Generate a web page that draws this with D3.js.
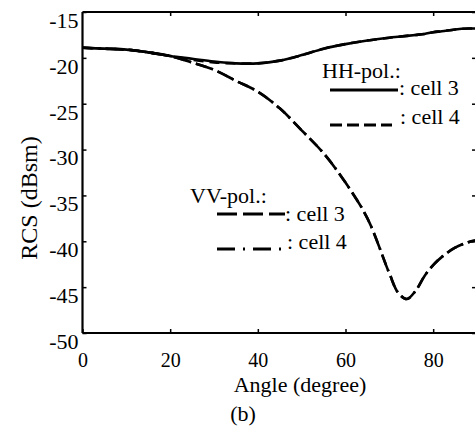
<!DOCTYPE html>
<html>
<head>
<meta charset="utf-8">
<script src="https://cdn.jsdelivr.net/npm/d3@7"></script>
<style>
  body { margin: 0; background: #fff; }
  svg { display: block; }
  svg text { font-family: "Liberation Serif", "DejaVu Serif", serif !important; fill: #000; }
</style>
</head>
<body>
<svg id="chart" width="475" height="435"></svg>
<script>
// angles (degree)
const angles = [0, 5, 10, 15, 20, 25, 30, 35, 40, 45, 50, 55, 60, 65, 70, 72, 74, 76, 78, 80, 82, 85, 88, 90];

// HH-pol.
const hhCell3 = [-18.9, -19.0, -19.1, -19.4, -19.8, -20.1, -20.4, -20.6, -20.6, -20.3, -19.7, -19.0, -18.5, -18.1, -17.8, -17.7, -17.6, -17.5, -17.4, -17.2, -17.1, -16.9, -16.8, -16.8];
const hhCell4 = [-18.9, -19.0, -19.1, -19.4, -19.8, -20.2, -20.5, -20.6, -20.6, -20.3, -19.7, -19.0, -18.5, -18.1, -17.8, -17.7, -17.6, -17.5, -17.4, -17.2, -17.1, -16.9, -16.8, -16.8];

// VV-pol.
const vvCell3 = [-18.9, -19.0, -19.1, -19.4, -19.8, -20.5, -21.3, -22.5, -23.7, -25.5, -27.9, -30.4, -33.6, -37.5, -43.5, -45.6, -46.3, -45.4, -43.8, -42.6, -41.7, -40.7, -40.1, -39.9];
const vvCell4 = [-18.9, -19.0, -19.1, -19.4, -19.8, -20.5, -21.3, -22.5, -23.7, -25.5, -27.9, -30.4, -33.6, -37.5, -43.5, -45.6, -46.3, -45.4, -43.8, -42.6, -41.7, -40.7, -40.1, -39.9];

const xTicks = [0, 20, 40, 60, 80];
const yTicks = [-15, -20, -25, -30, -35, -40, -45, -50];

const SERIF = '"Liberation Serif", "DejaVu Serif", serif';
const svg = d3.select("#chart");

const x = d3.scaleLinear().domain([0, 90]).range([82.5, 477]);
const y = d3.scaleLinear().domain([-50, -15]).range([333, 12]);

const line = d3.line()
    .x(d => x(d[0]))
    .y(d => y(d[1]))
    .curve(d3.curveCatmullRom);

const series = [
    { values: hhCell3, dash: null },
    { values: hhCell4, dash: "10,6" },
    { values: vvCell3, dash: "18,5" },
    { values: vvCell4, dash: "11,5,2,5" }
];

// curves
series.forEach(s => {
    svg.append("path")
        .datum(angles.map((a, i) => [a, s.values[i]]))
        .attr("d", line)
        .attr("fill", "none")
        .attr("stroke", "#000")
        .attr("stroke-width", 2.6)
        .attr("stroke-dasharray", s.dash);
});

// frame
const frame = svg.append("g").attr("stroke", "#000").attr("fill", "none");
frame.append("line").attr("x1", x(0)).attr("x2", x(0)).attr("y1", y(-15)).attr("y2", y(-50)).attr("stroke-width", 2.2);
frame.append("line").attr("x1", x(0)).attr("x2", x(90)).attr("y1", y(-50)).attr("y2", y(-50)).attr("stroke-width", 2.2);
frame.append("line").attr("x1", x(0)).attr("x2", x(90)).attr("y1", y(-15)).attr("y2", y(-15)).attr("stroke-width", 2);
frame.append("line").attr("x1", x(90)).attr("x2", x(90)).attr("y1", y(-15)).attr("y2", y(-50)).attr("stroke-width", 2);

// left axis
const left = svg.append("g")
    .attr("transform", `translate(${x(0)},0)`)
    .call(d3.axisLeft(y).tickValues(yTicks).tickSizeInner(-4).tickSizeOuter(0).tickPadding(8));
left.attr("font-family", SERIF);
left.select(".domain").remove();
left.selectAll("line").attr("stroke-width", 1.5);
left.selectAll("text")
    .style("font-size", "22px")
    .attr("dy", "0.7em")
    .attr("x", -4)
    .text(d => d);

// bottom axis
const bottom = svg.append("g")
    .attr("transform", `translate(0,${y(-50)})`)
    .call(d3.axisBottom(x).tickValues(xTicks).tickSizeInner(-4).tickSizeOuter(0).tickPadding(0));
bottom.attr("font-family", SERIF);
bottom.select(".domain").remove();
bottom.selectAll("line").attr("stroke-width", 1.5);
bottom.selectAll("text")
    .style("font-size", "20px")
    .attr("y", 34)
    .attr("dy", null);

// top & right ticks
svg.append("g")
    .attr("transform", `translate(0,${y(-15)})`)
    .call(d3.axisTop(x).tickValues(xTicks.slice(1)).tickSizeInner(-4).tickSizeOuter(0).tickFormat(""))
    .call(g => g.select(".domain").remove())
    .selectAll("line").attr("stroke-width", 1.5);
svg.append("g")
    .attr("transform", `translate(${x(90)},0)`)
    .call(d3.axisRight(y).tickValues(yTicks).tickSizeInner(-5).tickSizeOuter(0).tickFormat(""))
    .call(g => g.select(".domain").remove())
    .selectAll("line").attr("stroke-width", 1.5);

// axis titles
svg.append("text")
    .attr("transform", "translate(37,198) rotate(-90)")
    .attr("text-anchor", "middle")
    .style("font-size", "24px")
    .text("RCS (dBsm)");
svg.append("text")
    .attr("x", 300).attr("y", 392)
    .attr("text-anchor", "middle")
    .style("font-size", "22px")
    .text("Angle (degree)");
svg.append("text")
    .attr("x", 243).attr("y", 421)
    .attr("text-anchor", "middle")
    .style("font-size", "22px")
    .text("(b)");

// legends
const legend = svg.append("g");
function sample(x1, x2, yy, dash) {
    legend.append("line")
        .attr("x1", x1).attr("x2", x2).attr("y1", yy).attr("y2", yy)
        .attr("stroke", "#000").attr("stroke-width", 3)
        .attr("stroke-dasharray", dash);
}
function label(xx, yy, t) {
    legend.append("text").attr("x", xx).attr("y", yy).style("font-size", "22px").text(t);
}
label(322, 78, "HH-pol.:");
sample(330, 398, 90, null);
label(399, 95, ": cell 3");
sample(330, 392, 125, "12,5");
label(400, 124, ": cell 4");

label(190, 203, "VV-pol.:");
sample(217, 285, 214, "20,6");
label(285, 221, ": cell 3");
sample(217, 282, 249, "18,8,2,8");
label(287, 249, ": cell 4");
</script>
</body>
</html>
